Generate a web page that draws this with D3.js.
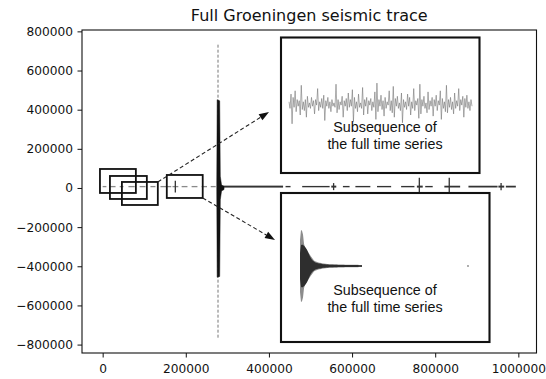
<!DOCTYPE html>
<html>
<head>
<meta charset="utf-8">
<script src="https://cdn.jsdelivr.net/npm/d3@7"></script>
<style>
  body { margin: 0; background: #fff; }
  svg { display: block; }
</style>
</head>
<body>
<svg id="chart" width="546" height="379"></svg>
<script>
// ---------------- data ----------------
const chartTitle = "Full Groeningen seismic trace";
const xTicks = [0, 200000, 400000, 600000, 800000, 1000000];
const yTicks = [-800000, -600000, -400000, -200000, 0, 200000, 400000, 600000, 800000];

// sample range of the full trace and its DC level (counts)
const traceSpan = [0, 994000];
const traceLevel = 7000;

// background-noise stretches of the trace: start sample, end sample, half amplitude
const quietStart = [0, 17000, 41000, 62000, 89000, 115000, 139000, 168000, 190000, 214000, 238000, 260000,
                    284000, 440000, 480000, 550000, 578000, 608000, 660000, 718000, 756000, 776000, 822000, 880000, 952000, 970000];
const quietEnd   = [9000, 31000, 50000, 77000, 103000, 127000, 165000, 182000, 204000, 228000, 251000, 272000,
                    434000, 452000, 546000, 562000, 594000, 644000, 694000, 750000, 770000, 794000, 860000, 950000, 966000, 994000];
const quietAmp   = [2500, 2500, 2500, 2500, 2500, 2500, 2500, 2500, 2500, 2500, 2500, 2500,
                    5000, 3500, 3500, 5000, 3500, 3500, 3500, 3500, 5000, 3500, 4500, 4500, 5000, 4500];

// small local events along the trace: sample, half amplitude
const smallEventX   = [174800, 555600, 761800, 833800, 958500];
const smallEventAmp = [30000, 18000, 45000, 45000, 18000];

// main earthquake: envelope of the signal around the onset
const quakeX   = [274500, 275500, 281500, 283000, 286000, 292000];
const quakeMin = [-20000, -456000, -452000, -60000, -15000, -8000];
const quakeMax = [20000, 451000, 445000, 60000, 15000, 8000];
const quakePeakX = 277500;
const quakePeakMin = -768000;
const quakePeakMax = 732000;

// sliding windows drawn over the start of the trace
const windowStart  = [-6500, 17500, 46300, 154300];
const windowEnd    = [79900, 106300, 132700, 240700];
const windowTop    = [97000, 61300, 30700, 66400];
const windowBottom = [-25500, -56200, -86900, -51100];

// zoomed subsequence 1: background noise (normalised amplitude)
const noiseWindow = [
  0.1,-0.2,0.45,-0.9,0.3,-0.15,0.6,-0.35,0.2,-0.1,0.15,-0.5,0.85,-0.25,0.1,-0.3,0.2,-0.6,0.35,-0.15,
  0.05,-0.2,0.3,-0.1,0.15,-0.45,0.2,-0.05,0.7,-0.3,0.1,-0.15,0.25,-0.2,0.4,-0.75,0.15,-0.1,0.3,-0.2,
  0.1,-0.35,0.2,-0.1,0.05,-0.15,0.9,-0.4,0.2,-0.25,0.1,-0.05,0.35,-0.6,0.15,-0.1,0.25,-0.3,0.5,-0.15,
  0.2,-0.1,0.65,-0.8,0.3,-0.2,0.1,-0.35,0.45,-0.15,0.05,-0.2,0.75,-0.5,0.2,-0.1,0.3,-0.45,0.15,-0.05,
  0.25,-0.3,0.1,-0.15,0.55,-0.7,0.95,-0.35,0.2,-0.1,0.4,-0.25,0.15,-0.55,0.3,-0.2,0.1,-0.05,0.6,-0.3,
  0.15,-0.4,0.8,-0.6,0.25,-0.1,0.35,-0.2,0.05,-0.3,0.5,-0.85,0.2,-0.15,0.1,-0.25,0.45,-0.1,0.3,-0.5,
  0.1,-0.2,0.7,-0.3,0.15,-0.05,0.25,-0.65,0.9,-0.45,0.2,-0.1,0.35,-0.2,0.05,-0.4,0.55,-0.25,0.15,-0.1,
  0.3,-0.55,0.2,-0.1,0.4,-0.3,0.15,-0.05,0.6,-0.7,0.25,-0.2,0.1,-0.35,0.85,-0.4,0.2,-0.15,0.3,-0.25,
  0.1,-0.45,0.5,-0.2,0.15,-0.1,0.7,-0.3,0.2,-0.05,0.35,-0.6,0.25,-0.15,0.4,-0.2,0.1,-0.3,0.2,-0.1
];

// zoomed subsequence 2: earthquake onset, extreme and typical envelope (normalised)
const quakeWindowPeak = [
  0.7,0.97,0.95,0.85,0.6,0.5,0.45,0.42,0.38,0.34,0.3,0.26,0.22,0.18,0.15,0.13,0.12,0.11,0.1,0.09,
  0.085,0.08,0.075,0.07,0.065,0.06,0.058,0.055,0.052,0.05,0.048,0.046,0.045,0.044,0.043,0.042,0.042,0.041,0.04,0.04,
  0.04,0.039,0.039,0.038,0.038,0.037,0.037,0.036,0.036,0.035,0.035,0.034,0.034,0.033,0.033,0.032,0.032,0.031,0.031,0.03,
  0.03,0.028,0.025
];
const quakeWindowCore = [
  0.35,0.56,0.58,0.57,0.55,0.52,0.48,0.44,0.38,0.32,0.26,0.21,0.17,0.14,0.12,0.1,0.09,0.08,0.075,0.07,
  0.065,0.06,0.055,0.05,0.047,0.044,0.042,0.04,0.038,0.036,0.035,0.034,0.033,0.033,0.032,0.032,0.031,0.031,0.03,0.03,
  0.03,0.03,0.029,0.029,0.029,0.028,0.028,0.028,0.027,0.027,0.027,0.026,0.026,0.026,0.025,0.025,0.025,0.024,0.024,0.023,
  0.023,0.021,0.019
];
const quakeWindowLateIndex = 168;

const captionLines = ["Subsequence of", "the full time series"];

// ---------------- layout ----------------
const svg = d3.select("#chart");
const plot = { left: 82, right: 536.5, top: 30, bottom: 353 };
const tickFont = "'DejaVu Sans', sans-serif";

const xPad = (traceSpan[1] - traceSpan[0]) * 0.05;
const x = d3.scaleLinear()
  .domain([traceSpan[0] - xPad, traceSpan[1] + xPad])
  .range([plot.left, plot.right]);
const yPad = (quakePeakMax - quakePeakMin) * 0.05;
const y = d3.scaleLinear()
  .domain([quakePeakMin - yPad, quakePeakMax + yPad])
  .range([plot.bottom, plot.top]);

const fmt = d => d < 0 ? "\u2212" + Math.abs(d) : String(d);

// title
svg.append("text")
  .attr("x", (plot.left + plot.right) / 2)
  .attr("y", 21)
  .attr("text-anchor", "middle")
  .style("font-family", tickFont)
  .style("font-size", "16px")
  .attr("fill", "#111")
  .text(chartTitle);

// axes
const gx = svg.append("g")
  .attr("transform", `translate(0,${plot.bottom})`)
  .call(d3.axisBottom(x).tickValues(xTicks).tickFormat(fmt).tickSize(4.5).tickSizeOuter(0).tickPadding(7));
const gy = svg.append("g")
  .attr("transform", `translate(${plot.left},0)`)
  .call(d3.axisLeft(y).tickValues(yTicks).tickFormat(fmt).tickSize(4.5).tickSizeOuter(0).tickPadding(4.5));
[gx, gy].forEach(g => {
  g.select(".domain").remove();
  g.selectAll("line").attr("stroke", "#111").attr("stroke-width", 1);
  g.selectAll("text")
    .style("font-family", tickFont)
    .style("font-size", "12.2px")
    .attr("fill", "#111");
});

// frame
svg.append("rect")
  .attr("x", plot.left).attr("y", plot.top)
  .attr("width", plot.right - plot.left).attr("height", plot.bottom - plot.top)
  .attr("fill", "none").attr("stroke", "#111").attr("stroke-width", 1.1);

// ---------------- the trace ----------------
const traceG = svg.append("g");

// background noise stretches
traceG.selectAll("rect.quiet")
  .data(quietStart.map((s, i) => ({ s, e: quietEnd[i], a: quietAmp[i] })))
  .join("rect")
  .attr("class", "quiet")
  .attr("x", d => x(d.s))
  .attr("width", d => x(d.e) - x(d.s))
  .attr("y", d => Math.min(y(traceLevel + d.a), y(traceLevel) - 0.65))
  .attr("height", d => Math.max(y(traceLevel - d.a) - y(traceLevel + d.a), 1.3))
  .attr("fill", d => d.a < 3000 ? "#8a8a8a" : "#333");

// small local events
traceG.selectAll("line.small")
  .data(smallEventX.map((s, i) => ({ s, a: smallEventAmp[i] })))
  .join("line")
  .attr("class", "small")
  .attr("x1", d => x(d.s)).attr("x2", d => x(d.s))
  .attr("y1", d => y(traceLevel + d.a)).attr("y2", d => y(traceLevel - d.a))
  .attr("stroke", "#333").attr("stroke-width", 1.3);

// rare extreme samples of the earthquake
traceG.append("line")
  .attr("x1", x(quakePeakX)).attr("x2", x(quakePeakX))
  .attr("y1", y(quakePeakMax)).attr("y2", y(quakePeakMin))
  .attr("stroke", "#777").attr("stroke-width", 1)
  .attr("stroke-dasharray", "3,2");

// earthquake envelope
traceG.append("path")
  .datum(quakeX.map((s, i) => ({ s, lo: quakeMin[i], hi: quakeMax[i] })))
  .attr("d", d3.area().x(d => x(d.s)).y0(d => y(d.lo)).y1(d => y(d.hi)))
  .attr("fill", "#111").attr("stroke", "#111").attr("stroke-width", 0.5);

// ---------------- sliding windows ----------------
const windows = windowStart.map((s, i) => ({
  s, e: windowEnd[i], top: windowTop[i], bottom: windowBottom[i]
}));
svg.selectAll("rect.window")
  .data(windows)
  .join("rect")
  .attr("class", "window")
  .attr("x", d => x(d.s)).attr("y", d => y(d.top))
  .attr("width", d => x(d.e) - x(d.s))
  .attr("height", d => y(d.bottom) - y(d.top))
  .attr("fill", "none").attr("stroke", "#111").attr("stroke-width", 1.8);

// ---------------- zoom insets ----------------
const insets = [
  { x0: 281, y0: 37.5, x1: 479.5, y1: 173, caption: [132, 149] },
  { x0: 281, y0: 193, x1: 489.5, y1: 342, caption: [295, 312] }
];
insets.forEach(b => {
  svg.append("rect")
    .attr("x", b.x0).attr("y", b.y0)
    .attr("width", b.x1 - b.x0).attr("height", b.y1 - b.y0)
    .attr("fill", "#fff").attr("stroke", "#111").attr("stroke-width", 2.1);
});

// inset 1: noise subsequence
const nx = d3.scaleLinear().domain([0, noiseWindow.length - 1]).range([289, 472]);
const ny = d3.scaleLinear().domain([-1, 1]).range([126, 82]);
svg.append("path")
  .datum(noiseWindow)
  .attr("d", d3.line().x((d, i) => nx(i)).y(d => ny(d)))
  .attr("fill", "none").attr("stroke", "#777").attr("stroke-width", 0.75)
  .attr("stroke-opacity", 0.8);

// inset 2: earthquake subsequence
const qx = d3.scaleLinear().domain([0, quakeWindowPeak.length - 1]).range([300, 362]);
const qy = d3.scaleLinear().domain([-1, 1]).range([303, 229]);
svg.append("path")
  .datum(quakeWindowPeak)
  .attr("d", d3.area().x((d, i) => qx(i)).y0(d => qy(-d)).y1(d => qy(d)))
  .attr("fill", "#8c8c8c").attr("stroke", "none");
svg.append("path")
  .datum(quakeWindowCore)
  .attr("d", d3.area().x((d, i) => qx(i)).y0(d => qy(-d)).y1(d => qy(d)))
  .attr("fill", "#2e2e2e").attr("stroke", "none");
svg.append("circle")
  .attr("cx", qx(quakeWindowLateIndex)).attr("cy", qy(0)).attr("r", 0.9)
  .attr("fill", "#888");

// captions
insets.forEach(b => {
  captionLines.forEach((t, i) => {
    svg.append("text")
      .attr("x", 385).attr("y", b.caption[i])
      .attr("text-anchor", "middle")
      .style("font-family", "'Liberation Sans', Arial, sans-serif")
      .style("font-size", "14.3px")
      .attr("fill", "#111")
      .text(t);
  });
});

// ---------------- arrows ----------------
function arrow(x1, y1, x2, y2) {
  const ang = Math.atan2(y2 - y1, x2 - x1);
  const len = 10, half = 3.6;
  const bx = x2 - len * Math.cos(ang), by = y2 - len * Math.sin(ang);
  svg.append("line")
    .attr("x1", x1).attr("y1", y1).attr("x2", bx).attr("y2", by)
    .attr("stroke", "#222").attr("stroke-width", 1.1)
    .attr("stroke-dasharray", "4,2.5");
  svg.append("path")
    .attr("d", `M${x2},${y2}L${bx - half * Math.sin(ang)},${by + half * Math.cos(ang)}L${bx + half * Math.sin(ang)},${by - half * Math.cos(ang)}Z`)
    .attr("fill", "#111");
}
arrow(x(windows[2].e), y(windows[2].top), 269, 112);
arrow(x(windows[3].e), y(windows[3].bottom), 275, 240);
</script>
</body>
</html>
